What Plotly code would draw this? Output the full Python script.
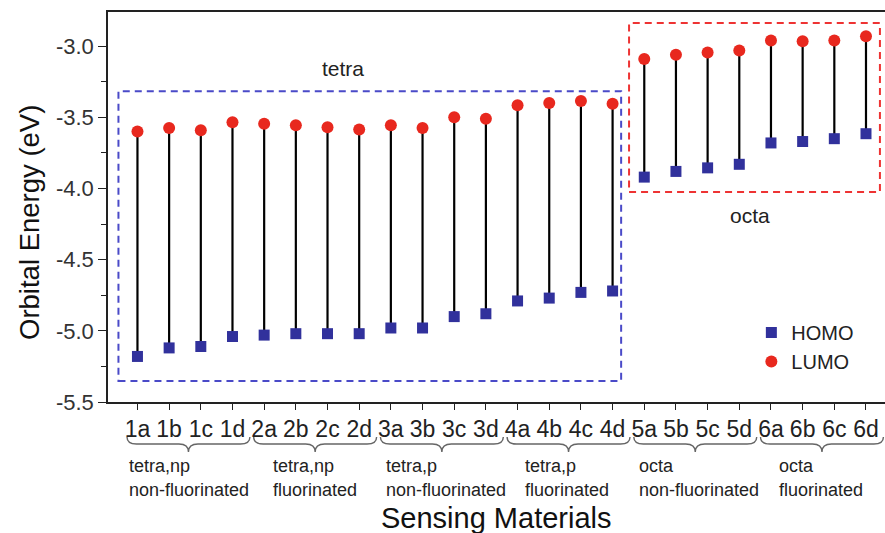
import plotly.graph_objects as go

materials = ["1a","1b","1c","1d","2a","2b","2c","2d","3a","3b","3c","3d",
             "4a","4b","4c","4d","5a","5b","5c","5d","6a","6b","6c","6d"]
homo = [-5.18,-5.12,-5.11,-5.04,-5.03,-5.02,-5.02,-5.02,-4.98,-4.98,-4.90,-4.88,
        -4.79,-4.77,-4.73,-4.72,-3.92,-3.88,-3.855,-3.83,-3.68,-3.67,-3.65,-3.615]
lumo = [-3.60,-3.575,-3.59,-3.535,-3.545,-3.555,-3.57,-3.585,-3.555,-3.575,-3.50,-3.51,
        -3.415,-3.40,-3.385,-3.405,-3.09,-3.06,-3.045,-3.03,-2.96,-2.965,-2.96,-2.93]
group_line1 = ["tetra,np","tetra,np","tetra,p","tetra,p","octa","octa"]
group_line2 = ["non-fluorinated","fluorinated","non-fluorinated","fluorinated","non-fluorinated","fluorinated"]
y_ticks = [-5.5,-5.0,-4.5,-4.0,-3.5,-3.0]

FONT = "Arial, Liberation Sans, sans-serif"
idx = list(range(len(materials)))

XR = [-0.93, 23.6]
YR = [-5.5, -2.76]

fig = go.Figure()

sx, sy = [], []
for i, h, l in zip(idx, homo, lumo):
    sx += [i, i, None]
    sy += [h, l, None]
fig.add_trace(go.Scatter(x=sx, y=sy, mode="lines", line=dict(color="black", width=2.2),
                         showlegend=False, hoverinfo="skip"))
fig.add_trace(go.Scatter(x=idx, y=homo, mode="markers", name="HOMO",
                         marker=dict(symbol="square", size=11, color="#31319C")))
fig.add_trace(go.Scatter(x=idx, y=lumo, mode="markers", name="LUMO",
                         marker=dict(symbol="circle", size=12, color="#E8281E")))

# dashed boxes
fig.add_shape(type="rect", xref="x", yref="y", x0=-0.6, x1=15.27, y0=-5.353, y1=-3.316,
              line=dict(color="#4A4AC8", width=2, dash="7px,5px"))
fig.add_shape(type="rect", xref="x", yref="y", x0=15.52, x1=23.44, y0=-4.025, y1=-2.838,
              line=dict(color="#EE3333", width=2, dash="7px,5px"))
fig.add_annotation(x=6.5, y=-3.155, xref="x", yref="y", text="tetra", showarrow=False,
                   font=dict(family=FONT, size=21, color="#222"))
fig.add_annotation(x=19.34, y=-4.187, xref="x", yref="y", text="octa", showarrow=False,
                   font=dict(family=FONT, size=21, color="#222"))

# braces and group labels
def yp(px):
    return (402 - px) / 390.0

def xp(px):
    return (px - 108) / 777.0

label_offsets = [-0.32, 0.22, -0.21, 0.17, -0.23, 0.19]
for g in range(6):
    s = g * 4
    x0, x1 = s - 0.33, s + 3.55
    xc = (x0 + x1) / 2
    d = 0.3
    yt, ym, ytip = yp(437), yp(444), yp(452)
    path = (f"M {x0},{yt} Q {x0},{ym} {x0+d},{ym} L {xc-d},{ym} Q {xc},{ym} {xc},{ytip} "
            f"Q {xc},{ym} {xc+d},{ym} L {x1-d},{ym} Q {x1},{ym} {x1},{yt}")
    fig.add_shape(type="path", xref="x", yref="paper", path=path,
                  line=dict(color="#666", width=1.4))
    for txt, ypx in ((group_line1[g], 466), (group_line2[g], 490)):
        fig.add_annotation(x=s + label_offsets[g], y=yp(ypx), xref="x", yref="paper",
                           text=txt, showarrow=False, xanchor="left", yanchor="middle",
                           font=dict(family=FONT, size=18, color="#222"))

fig.add_annotation(x=0.5, y=yp(518), xref="paper", yref="paper", text="Sensing Materials",
                   showarrow=False, xanchor="center", yanchor="middle",
                   font=dict(family=FONT, size=29, color="#111"))
fig.add_annotation(x=xp(29), y=yp(223), xref="paper", yref="paper", text="Orbital Energy (eV)",
                   showarrow=False, xanchor="center", yanchor="middle", textangle=-90,
                   font=dict(family=FONT, size=27.5, color="#111"))

fig.update_layout(
    width=885, height=533,
    margin=dict(l=108, r=0, t=12, b=131),
    plot_bgcolor="white", paper_bgcolor="white",
    font=dict(family=FONT),
    legend=dict(x=0.828, y=0.228, xanchor="left", yanchor="top",
                font=dict(family=FONT, size=20, color="#222"), bgcolor="rgba(0,0,0,0)"),
    xaxis=dict(range=XR, tickmode="array", tickvals=idx, ticktext=materials,
               showgrid=False, zeroline=False, showline=True, linecolor="#222", linewidth=1.5,
               mirror=True, ticks="outside", ticklen=6, tickcolor="#222",
               tickfont=dict(family=FONT, size=23, color="#222")),
    yaxis=dict(range=YR, tickmode="array", tickvals=y_ticks, ticktext=[f"{v:.1f}" for v in y_ticks],
               showgrid=False, zeroline=False, showline=True, linecolor="#222", linewidth=1.5,
               ticks="outside", ticklen=8, tickcolor="#222",
               minor=dict(dtick=0.25, tick0=-5.5, ticks="outside", ticklen=5, tickcolor="#222", showgrid=False),
               tickfont=dict(family=FONT, size=22, color="#333")),
)

fig.write_html("out.html")
